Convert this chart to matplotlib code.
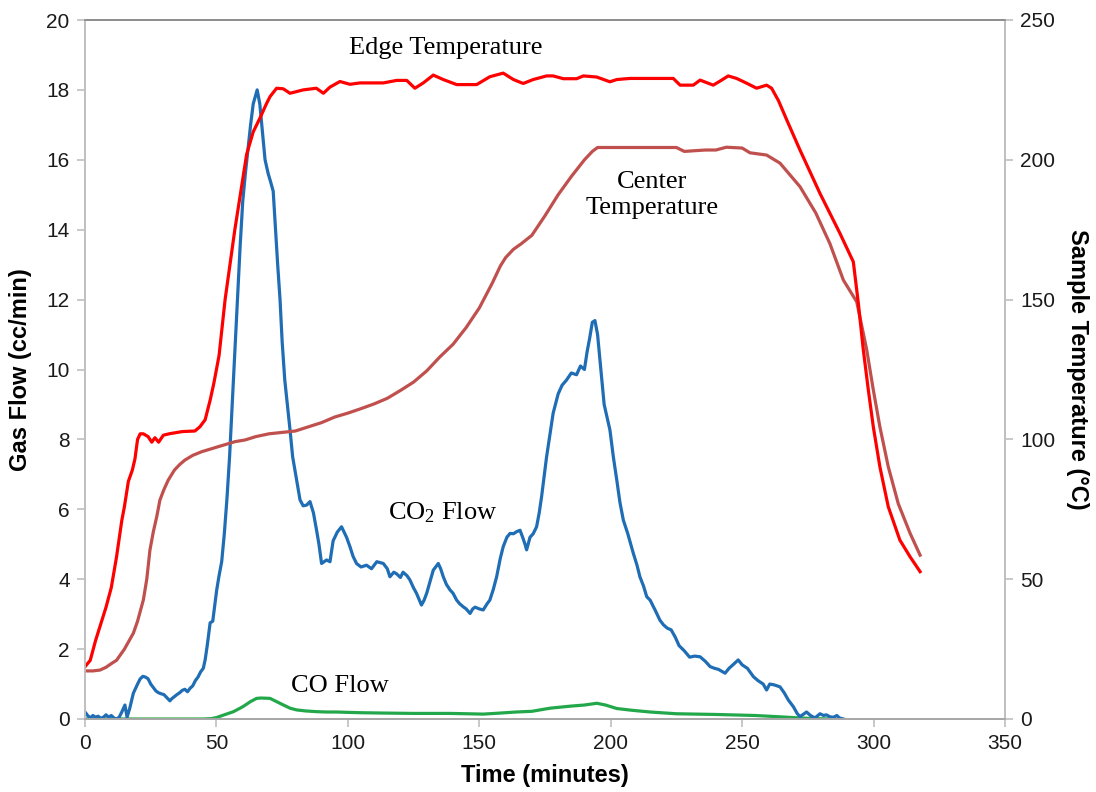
import matplotlib
matplotlib.use("Agg")
import matplotlib.pyplot as plt

# ---------------- data ----------------
edge_t = [0, 2, 4, 6, 8, 10, 12, 14, 15, 16.5, 18, 19, 20, 21, 22.2, 24, 25.4, 26.6, 28, 29.8,
          32, 37, 41.8, 43.7, 45.7, 47.6, 49, 51, 53.3, 57, 61.5, 64, 66.6, 69, 70.4, 72.9,
          75.4, 78, 80.5, 83, 88, 90.7, 93.2, 97, 100.8, 104.6, 113.5, 118.6, 122.4, 125.5,
          128.7, 132.5, 136.3, 141.4, 149, 154, 159.1, 163, 166.7, 170.5, 175.6, 178.1, 182,
          187, 189.6, 194.7, 199.7, 202.3, 207.3, 223.8, 226.4, 231.4, 234, 239, 242.2, 244.7,
          247.9, 251.7, 255.5, 259.3, 261.2, 263.8, 267, 272, 279.6, 287.2, 292.3, 294.2,
          296.1, 298, 299.9, 302.4, 305.6, 310, 313.9, 317.7]
edge_temp = [18.7, 21, 28, 34, 40, 47, 58, 71, 76, 85, 89, 93, 100, 102, 102, 101, 99, 100.6, 99, 101.5,
             102, 102.8, 103, 104.5, 107, 114, 120, 130, 150, 175, 202, 210, 215, 220, 222.6, 225.6,
             225.4, 223.8, 224.4, 225, 225.6, 223.8, 226, 228, 227, 227.5, 227.5, 228.4, 228.4, 225.6,
             227.5, 230.3, 228.7, 226.9, 226.9, 229.7, 231, 228.7, 227.3, 228.7, 230, 230, 229,
             229, 230, 229.6, 227.9, 228.7, 229.1, 229.1, 226.7, 226.7, 228.5, 226.7, 228.5, 230,
             229.1, 227.4, 225.6, 226.7, 225.6, 221.2, 214.2, 203.5, 188, 173.7, 163.5, 148.7,
             132, 117.7, 104.5, 90.2, 75.9, 64, 58, 52.7]

center_t = [0, 3, 5.7, 8, 10, 12, 15, 18.4, 20, 22.2, 23.5, 24.7, 26, 27.3, 28.5, 30, 31.7, 34, 36,
            38, 41, 44.4, 50.7, 57.1, 60.9, 65, 70, 75, 80, 85, 90, 95, 100, 105, 110, 115, 120,
            125, 130, 135, 140, 145, 150, 155, 158, 160, 163, 166, 170, 175, 180, 185, 190, 193,
            195, 210, 225, 228, 236, 240, 244, 250, 253, 259.3, 264.4, 272, 278, 283.4, 288.5,
            293.6, 297.4, 299.9, 302.4, 305.6, 309.4, 313.9, 317.7]
center_temp = [17.2, 17.2, 17.5, 18.5, 19.8, 21, 25, 30.7, 35, 42.6, 50, 60.4, 67, 72.4, 78.3, 82, 85.5, 89, 91,
               92.6, 94.3, 95.6, 97.4, 99.2, 99.8, 101, 102, 102.5, 103, 104.5, 106, 108, 109.4, 111, 112.7, 114.7, 117.5,
               120.5, 124.5, 129.5, 134, 140, 147, 156, 162, 165, 168, 170, 173, 180, 187.5, 194, 200, 203,
               204.4, 204.4, 204.4, 203, 203.5, 203.5, 204.5, 204.2, 202.5, 201.7, 198.8, 190.4, 181, 170, 157,
               149.2, 132, 117.7, 104.5, 90.2, 77, 66.4, 58.6]

co2_t = [0, 1, 2, 3, 4, 5, 6, 7, 8, 9, 10, 11, 12, 13, 14, 15.2, 16, 17, 18.4, 20, 21, 22, 23, 24, 25,
         26, 27, 28, 29, 30, 31, 32.3, 33, 35, 36, 37, 38, 39, 40, 41, 42, 43, 44, 45, 45.7, 46.5, 47.6,
         48.6, 50.1, 51, 52, 53, 54, 55, 56, 57, 58, 59, 60, 61, 62, 63, 64, 65.5, 66.5, 67.5, 68.5,
         69.7, 70.5, 71.6, 72.5, 73.3, 74.2, 75, 76, 78, 79, 80.5, 81.8, 83, 84.3, 85.6, 86.9, 88.1,
         89, 90, 91.9, 93.2, 94.4, 96, 97.6, 99.5, 100.8, 102, 103.3, 105, 107.1, 109, 111, 113.5,
         115, 116, 117.5, 118.6, 120, 121, 122.5, 123.6, 125, 126.1, 128, 129, 130, 131.5, 132.5,
         134.4, 135.3, 136.3, 137.5, 138.9, 140, 141.4, 142.5, 143.9, 145, 146.5, 147.5, 148.4, 150,
         151.5, 153, 154, 155.3, 156.6, 158, 159.1, 160.5, 161.7, 163, 164.2, 165.5, 166.5, 167.4,
         168, 169.3, 170.5, 171.8, 172.8, 173.7, 174.6, 175.6, 177, 178.1, 180, 181.5, 183.2, 185,
         187, 188.5, 190, 191, 192, 193, 194, 195, 196.6, 197.5, 199.7, 201, 202.3, 203.5, 204.8,
         206.5, 208.6, 210, 211.1, 212.5, 213.7, 215, 217, 218.7, 220, 221.5, 223, 224.5, 226, 228,
         230, 232, 234, 236, 237.8, 239.5, 241, 243.5, 245, 246.5, 248.5, 250, 252, 254.3, 256, 258,
         259.3, 260.5, 262, 264.4, 266, 267.6, 268.5, 269.5, 271, 272, 273, 274.5, 276, 277.7, 279.6,
         281, 282, 283.5, 284.8, 286, 287, 288.5]
co2_flow = [0.2, 0.1, 0.03, 0.1, 0.05, 0.08, 0.02, 0.05, 0.12, 0.05, 0.1, 0.03, 0.0, 0.05, 0.2, 0.4, 0.05, 0.3, 0.74, 1.0, 1.15,
            1.22, 1.2, 1.15, 1.0, 0.9, 0.8, 0.75, 0.72, 0.7, 0.62, 0.52, 0.58, 0.7, 0.75, 0.82, 0.85, 0.78, 0.88, 0.95, 1.1,
            1.2, 1.35, 1.45, 1.69, 2.1, 2.75, 2.8, 3.69, 4.1, 4.5, 5.3, 6.3, 7.5, 9.0, 10.5, 12.0, 13.5, 14.8, 15.6,
            16.3, 17.0, 17.6, 18.0, 17.6, 16.8, 16.0, 15.6, 15.4, 15.1, 14.0, 13.0, 12.0, 10.8, 9.7, 8.27, 7.5, 6.84,
            6.27, 6.1, 6.12, 6.22, 5.9, 5.4, 5.0, 4.45, 4.55, 4.5, 5.1, 5.35, 5.5, 5.2, 4.93, 4.65, 4.45, 4.35, 4.4,
            4.3, 4.5, 4.45, 4.3, 4.07, 4.2, 4.15, 4.05, 4.2, 4.1, 3.98, 3.75, 3.6, 3.26, 3.4, 3.6, 4.0, 4.26, 4.45,
            4.3, 4.07, 3.85, 3.69, 3.6, 3.4, 3.3, 3.21, 3.15, 3.02, 3.15, 3.2, 3.15, 3.12, 3.3, 3.4, 3.7, 4.07, 4.6,
            4.93, 5.2, 5.31, 5.3, 5.36, 5.4, 5.2, 5.0, 4.84, 5.2, 5.3, 5.5, 5.9, 6.36, 6.9, 7.5, 8.2, 8.75, 9.3,
            9.55, 9.7, 9.9, 9.85, 10.1, 10.0, 10.5, 10.9, 11.35, 11.4, 11.0, 9.7, 9.0, 8.27, 7.5, 6.84, 6.2, 5.69,
            5.3, 4.74, 4.4, 4.07, 3.8, 3.5, 3.4, 3.1, 2.83, 2.7, 2.6, 2.55, 2.35, 2.1, 1.95, 1.77, 1.8, 1.78, 1.65,
            1.5, 1.45, 1.42, 1.31, 1.45, 1.55, 1.69, 1.55, 1.45, 1.21, 1.1, 1.0, 0.83, 1.0, 0.98, 0.92, 0.75, 0.54,
            0.45, 0.35, 0.15, 0.07, 0.12, 0.2, 0.1, 0.03, 0.15, 0.1, 0.12, 0.06, 0.05, 0.1, 0.03, 0.0]

co_t = [0, 45, 48, 50, 53, 56.5, 60, 63, 65.3, 67, 70.4, 72, 75.5, 78, 80.5, 84, 88.1, 92, 95.7, 100,
        105, 113.5, 125, 139, 151.5, 158, 164, 170, 177, 185, 190, 194.7, 198, 202.3, 208, 215, 225,
        240, 255, 265, 272, 278, 285]
co_flow = [0, 0, 0.01, 0.04, 0.12, 0.21, 0.35, 0.5, 0.59, 0.6, 0.59, 0.53, 0.4, 0.31, 0.26, 0.23, 0.21, 0.2, 0.2, 0.19,
           0.18, 0.17, 0.16, 0.16, 0.14, 0.17, 0.2, 0.22, 0.31, 0.37, 0.4, 0.45, 0.4, 0.3, 0.25, 0.2, 0.15,
           0.13, 0.1, 0.06, 0.03, 0.01, 0.0]

x_ticks = [0, 50, 100, 150, 200, 250, 300, 350]
left_ticks = [0, 2, 4, 6, 8, 10, 12, 14, 16, 18, 20]
right_ticks = [0, 50, 100, 150, 200, 250]

# ---------------- figure ----------------
plt.rcParams['font.family'] = ['Liberation Sans', 'DejaVu Sans']
plt.rcParams['mathtext.fontset'] = 'custom'
plt.rcParams['mathtext.rm'] = 'Liberation Serif'
plt.rcParams['mathtext.it'] = 'Liberation Serif:italic'
fig = plt.figure(figsize=(10.96, 7.92), dpi=100)
ax = fig.add_axes([85 / 1096, 1 - 719 / 792, (1005 - 85) / 1096, (719 - 20) / 792])
ax2 = ax.twinx()

lw = 2.3
ax.plot(co_t, co_flow, color='#22A84A', lw=lw, solid_joinstyle='round')
ax.plot(co2_t, co2_flow, color='#1F6DB4', lw=lw, solid_joinstyle='round')
ax2.plot(center_t, center_temp, color='#C0504D', lw=lw, solid_joinstyle='round')
ax2.plot(edge_t, edge_temp, color='#FF0000', lw=lw, solid_joinstyle='round')

ax.set_xlim(0, 350)
ax.set_ylim(0, 20)
ax2.set_ylim(0, 250)
ax.set_xticks(x_ticks)
ax.set_yticks(left_ticks)
ax2.set_yticks(right_ticks)

spine_col = '#BFBFBF'
for a in (ax, ax2):
    for s in a.spines.values():
        s.set_color(spine_col)
        s.set_linewidth(1.2)
    a.spines['top'].set_color('#8C8C8C')
    a.spines['bottom'].set_color('#A6A6A6')

ax.tick_params(axis='both', direction='out', length=6, width=1.2, color=spine_col,
               labelsize=15, labelcolor='#1A1A1A', pad=5)
ax2.tick_params(axis='y', direction='out', length=6, width=1.2, color=spine_col,
                labelsize=15, labelcolor='#1A1A1A', pad=5)

ax.set_xlabel('Time (minutes)', fontsize=17, fontweight='bold', labelpad=8)
ax.set_ylabel('Gas Flow (cc/min)', fontsize=17, fontweight='bold', labelpad=10)
ax2.set_ylabel('Sample Temperature (°C)', fontsize=17, fontweight='bold', rotation=270, labelpad=24)

serif = ['Liberation Serif', 'DejaVu Serif']
ax.text(137.3, 19.2, 'Edge Temperature', fontsize=19, family=serif, ha='center', va='center')
ax.text(215.7, 15.0, 'Center\nTemperature', fontsize=19, family=serif, ha='center', va='center',
        linespacing=1.25)
ax.text(136.2, 5.9, r'CO$_2$ Flow', fontsize=19, family=serif, ha='center', va='center')
ax.text(97, 0.94, 'CO Flow', fontsize=19, family=serif, ha='center', va='center')

fig.savefig('out.png', dpi=100)
